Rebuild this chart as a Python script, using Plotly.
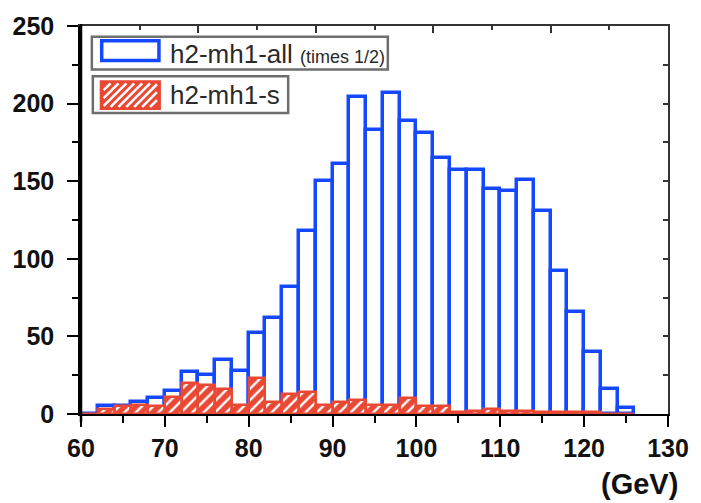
import plotly.graph_objects as go

# ---- data ----
mass_bin_centers = list(range(61, 127, 2))  # 2 GeV bins from 60 to 126
h2_mh1_all_half = [0, 5, 5, 8, 10, 15, 27, 25, 35, 28, 52, 62, 82, 118, 150, 161,
                   204, 183, 207, 189, 181, 165, 157, 157, 145, 144, 151, 131,
                   92, 66, 40, 16, 4]
h2_mh1_s = [0, 3, 5, 6, 5, 11, 20, 19, 16, 6, 23, 8, 13, 14, 6, 8,
            9, 6, 6, 10, 5, 5, 1, 2, 3, 2, 2, 1, 1, 1, 1, 0, 0]
bin_width = 2
x_ticks = [60, 70, 80, 90, 100, 110, 120, 130]
y_ticks = [0, 50, 100, 150, 200, 250]

BLUE = "rgb(20,72,255)"
RED = "rgb(233,72,52)"
FONT = "Liberation Sans"

# plot-area geometry in pixels (for legend decoration only)
L, R, T, B = 81, 676, 21, 414
W_, H_ = R - L, B - T


def px(xp):
    return (xp - L) / W_


def py(yp):
    return (B - yp) / H_


fig = go.Figure()
fig.add_trace(go.Bar(
    x=mass_bin_centers, y=h2_mh1_all_half, width=bin_width,
    marker=dict(color="white", line=dict(color=BLUE, width=3.5)),
    showlegend=False,
))
fig.add_trace(go.Bar(
    x=mass_bin_centers, y=h2_mh1_s, width=bin_width,
    marker=dict(color=RED, line=dict(color=RED, width=2.5),
                pattern=dict(shape="/", fillmode="replace", fgcolor="white",
                             bgcolor=RED, size=8, solidity=0.3)),
    showlegend=False,
))
# empty trace to create the mirrored top/right frame axes
fig.add_trace(go.Scatter(x=[], y=[], xaxis="x2", yaxis="y2", showlegend=False))

tickfont = dict(family=FONT, size=25, color="#111111", weight="bold")

fig.update_layout(
    width=701, height=503,
    margin=dict(l=L, r=701 - R, t=T, b=503 - B),
    paper_bgcolor="white", plot_bgcolor="rgba(0,0,0,0)",
    barmode="overlay", bargap=0,
    xaxis=dict(range=[60, 130], tickvals=x_ticks, ticks="outside", ticklen=11,
               tickwidth=2, tickcolor="black", showline=True, linewidth=2,
               linecolor="black", showgrid=False, zeroline=False, anchor="y",
               tickfont=tickfont, layer="above traces",
               minor=dict(dtick=5, ticks="outside", ticklen=7, tickwidth=2,
                          tickcolor="black", showgrid=False)),
    yaxis=dict(range=[0, 250], tickvals=y_ticks, ticks="outside", ticklen=11,
               tickwidth=2, tickcolor="black", showline=True, linewidth=2.5,
               linecolor="black", showgrid=False, zeroline=False, anchor="x",
               tickfont=tickfont, layer="above traces", ticklabelstandoff=8,
               minor=dict(dtick=25, ticks="outside", ticklen=6, tickwidth=2,
                          tickcolor="black", showgrid=False)),
    xaxis2=dict(overlaying="x", side="top", anchor="y", range=[0, 10],
                dtick=2, ticks="inside", ticklen=7, tickwidth=2,
                tickcolor="#333", showticklabels=False, showline=True,
                linewidth=2, linecolor="#333", showgrid=False, zeroline=False,
                minor=dict(dtick=1, ticks="inside", ticklen=4, tickwidth=2,
                           tickcolor="#333", showgrid=False)),
    yaxis2=dict(overlaying="y", side="right", anchor="x", range=[0, 250],
                dtick=50, ticks="inside", ticklen=5, tickwidth=2,
                tickcolor="#333", showticklabels=False, showline=True,
                linewidth=2, linecolor="#333", showgrid=False, zeroline=False,
                minor=dict(dtick=25, ticks="inside", ticklen=5, tickwidth=2,
                           tickcolor="#333", showgrid=False)),
)

shapes = []
# frame spine on the left (drawn explicitly)
shapes.append(dict(type="line", xref="paper", yref="paper", x0=0, x1=0,
                   y0=py(B + 8), y1=py(T - 2), line=dict(color="black", width=2.5)))
# legend boxes
shapes.append(dict(type="rect", xref="paper", yref="paper",
                   x0=px(92), x1=px(392), y0=py(65), y1=py(32),
                   line=dict(color="#6e6e6e", width=2.5), fillcolor="white"))
shapes.append(dict(type="rect", xref="paper", yref="paper",
                   x0=px(93), x1=px(291), y0=py(109), y1=py(72),
                   line=dict(color="#6e6e6e", width=2.5), fillcolor="white"))
# swatch 1 (blue outline)
shapes.append(dict(type="rect", xref="paper", yref="paper",
                   x0=px(102), x1=px(160), y0=py(56), y1=py(36),
                   line=dict(color=BLUE, width=3.5), fillcolor="white"))
# swatch 2 (red hatched)
sx0, sx1, sy0, sy1 = 101, 161, 77, 105
shapes.append(dict(type="rect", xref="paper", yref="paper",
                   x0=px(sx0), x1=px(sx1), y0=py(sy1), y1=py(sy0),
                   line=dict(color=RED, width=2), fillcolor=RED))
h = sy1 - sy0 - 4
for c in range(-h, sx1 - sx0, 8):
    xa = sx0 + 2 + c
    tmin = max(0.0, (sx0 + 3 - xa) / h)
    tmax = min(1.0, (sx1 - 3 - xa) / h)
    if tmin < tmax:
        shapes.append(dict(type="line", xref="paper", yref="paper",
                           x0=px(xa + h * tmin), y0=py(sy1 - 2 - h * tmin),
                           x1=px(xa + h * tmax), y1=py(sy1 - 2 - h * tmax),
                           line=dict(color="white", width=2.5)))
fig.update_layout(shapes=shapes)

fig.add_annotation(xref="paper", yref="paper", x=px(169), y=py(49),
                   xanchor="left", yanchor="middle", showarrow=False,
                   text="h2-mh1-all <span style='font-size:18px'>(times 1/2)</span>",
                   font=dict(family=FONT, size=26, color="#2a2a2a"))
fig.add_annotation(xref="paper", yref="paper", x=px(169), y=py(91),
                   xanchor="left", yanchor="middle", showarrow=False,
                   text="h2-mh1-s",
                   font=dict(family=FONT, size=26, color="#2a2a2a"))
fig.add_annotation(xref="paper", yref="paper", x=px(688), y=py(485),
                   xanchor="right", yanchor="middle", showarrow=False,
                   text="(GeV)",
                   font=dict(family=FONT, size=29, color="#111111", weight="bold"))

fig.write_html("out.html")
